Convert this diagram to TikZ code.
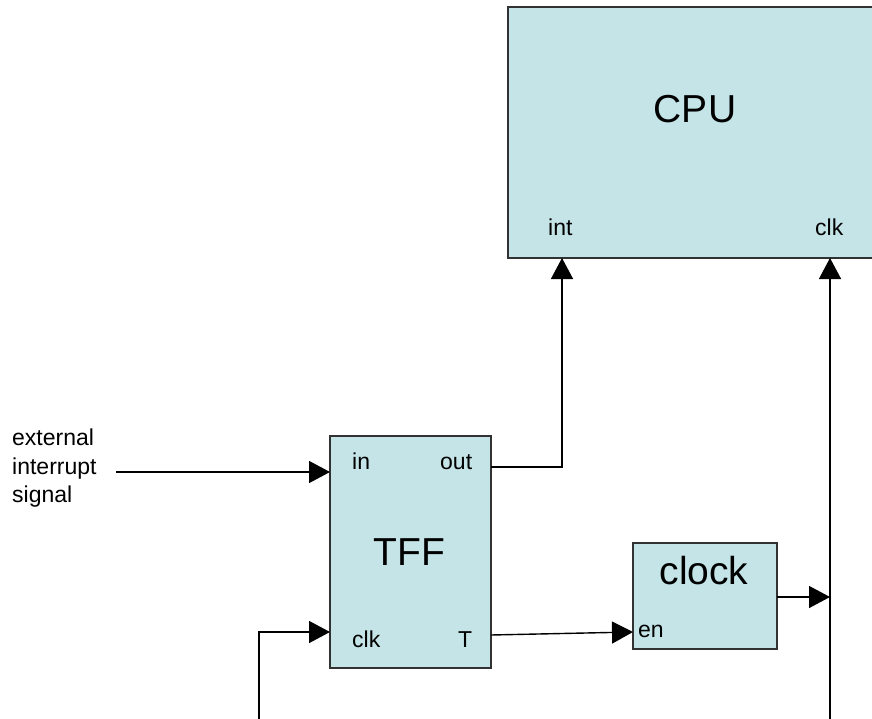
\documentclass[tikz,border=0pt]{standalone}
\usepackage{fontspec}
\setmainfont{Liberation Sans}
\usetikzlibrary{arrows.meta}
\definecolor{boxfill}{RGB}{196,228,231}
\definecolor{boxline}{RGB}{50,50,50}
\tikzset{
  blk/.style={draw=boxline,line width=1.6pt,fill=boxfill,inner sep=0pt,outer sep=0pt},
  big/.style={font=\fontsize{39}{44}\selectfont,inner sep=0pt,anchor=base},
  small/.style={font=\fontsize{23}{28.5}\selectfont,inner sep=0pt,anchor=base west},
  wire/.style={line width=1.4pt,black},
  arr/.style={wire,-{Triangle[length=21pt,width=22pt]}},
}
\begin{document}
\begin{tikzpicture}[x=1pt,y=-1pt]
\useasboundingbox (0,0) rectangle (872,719);
% blocks
\node[blk,minimum width=367pt,minimum height=251pt] (cpu) at (691.5,132.5) {};
\node[blk,minimum width=161pt,minimum height=232pt] (tff) at (410.5,552) {};
\node[blk,minimum width=144pt,minimum height=106pt] (clock) at (705,596) {};
% titles
\node[big] (cpuT) at (695,123) {CPU};
\node[big] (tffT) at (409.5,565) {TFF};
\node[big] (clockT) at (704,584) {clock};
% port labels
\node[small] (cpuInt) at (548,236) {int};
\node[small] (cpuClk) at (815,236) {clk};
\node[small] (tffIn) at (352,469) {in};
\node[small] (tffOut) at (440,469) {out};
\node[small] (tffClk) at (352,647) {clk};
\node[small] (tffT2) at (458,647) {T};
\node[small] (clkEn) at (638,637) {en};
\node[small,align=left,anchor=north west] (ext) at (12,429) {external\\interrupt\\signal};
% port coordinates
\coordinate (pIn) at (330,472);
\coordinate (pClk) at (330,632);
\coordinate (pOut) at (491,467);
\coordinate (pT) at (491,635);
\coordinate (pEn) at (633,632);
\coordinate (pCo) at (777,597);
\coordinate (pInt) at (562,258);
\coordinate (pCclk) at (830,258);
\coordinate (extS) at (116,472);
\coordinate (bClk) at (259,719);
\coordinate (bMain) at (830,719);
\coordinate (joinC) at (830,597);
% connectors
\draw[arr] (extS) -- (pIn);
\draw[arr] (bClk) |- (pClk);
\draw[arr] (pOut) -| (pInt);
\draw[arr] (pT) -- (pEn);
\draw[arr] (pCo) -- (joinC);
\draw[arr] (bMain) -- (pCclk);
\end{tikzpicture}
\end{document}
